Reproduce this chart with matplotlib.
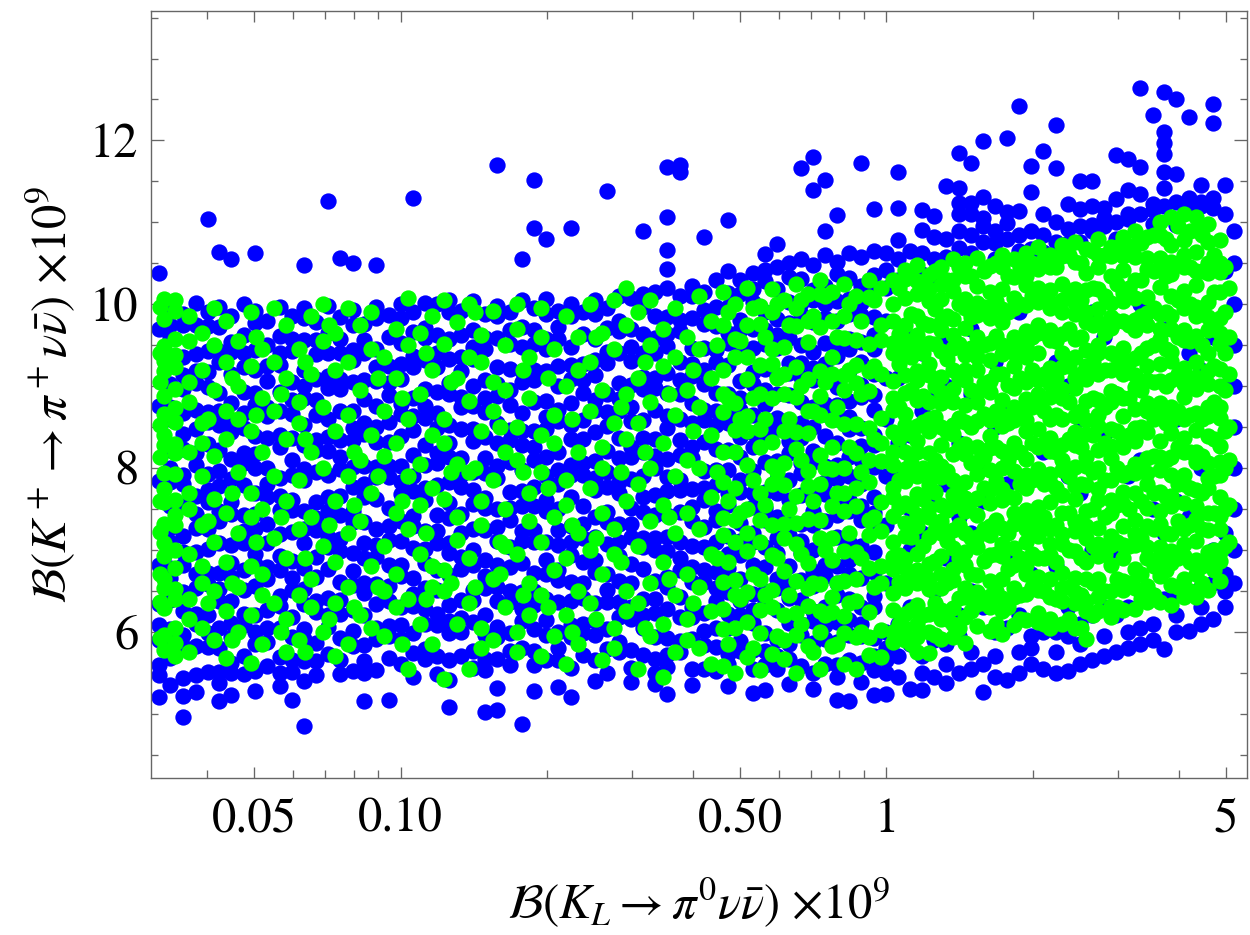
import numpy as np
import matplotlib
matplotlib.use("Agg")
import matplotlib.pyplot as plt
from matplotlib.ticker import FixedLocator, FixedFormatter, NullFormatter

plt.rcParams['font.family'] = 'STIXGeneral'
plt.rcParams['mathtext.fontset'] = 'stix'

# ---------------------------------------------------------------------------
# scan points, column by column: (x, [y values])
# x = B(K_L -> pi0 nu nubar) x 1e9, y = B(K+ -> pi+ nu nubar) x 1e9
# ---------------------------------------------------------------------------

blue_left = [
    (0.0318, [10.38, 9.7, 8.76, 7.84, 6.81, 6.34, 6.08, 5.9, 5.59, 5.47, 5.2]),
    (0.0336, [9.95, 9.75, 9.6, 9.27, 9.03, 8.74, 8.6, 8.22, 8.0, 7.83, 7.53, 7.27, 7.09, 6.78, 6.66, 6.39, 6.03, 5.83, 5.68, 5.35]),
    (0.0356, [9.88, 9.74, 9.36, 9.14, 8.97, 8.67, 8.41, 8.23, 7.92, 7.8, 7.53, 7.17, 6.97, 6.82, 6.49, 6.25, 5.96, 5.82, 5.44, 5.22, 4.96]),
    (0.0379, [10.02, 9.75, 9.39, 9.19, 9.04, 8.71, 8.47, 8.18, 8.04, 7.66, 7.44, 7.27, 6.97, 6.71, 6.53, 6.22, 6.1, 5.83, 5.47, 5.27]),
    (0.0401, [11.04, 9.9, 9.73, 9.43, 9.17, 8.99, 8.68, 8.56, 8.29, 7.93, 7.73, 7.58, 7.25, 7.01, 6.72, 6.58, 6.2, 5.98, 5.81, 5.51]),
    (0.0423, [10.64, 9.96, 9.72, 9.43, 9.29, 8.91, 8.69, 8.52, 8.22, 7.96, 7.78, 7.47, 7.35, 7.08, 6.72, 6.52, 6.37, 6.04, 5.8, 5.51, 5.37, 5.15]),
    (0.0448, [10.55, 9.85, 9.54, 9.42, 9.15, 8.79, 8.59, 8.44, 8.11, 7.87, 7.58, 7.44, 7.06, 6.84, 6.67, 6.37, 6.11, 5.93, 5.62, 5.5, 5.23]),
    (0.0476, [10.0, 9.62, 9.4, 9.23, 8.93, 8.67, 8.49, 8.18, 8.06, 7.79, 7.43, 7.23, 7.08, 6.75, 6.51, 6.22, 6.08, 5.7, 5.48]),
    (0.0502, [10.63, 9.92, 9.77, 9.44, 9.2, 8.91, 8.77, 8.39, 8.17, 8.0, 7.7, 7.44, 7.26, 6.95, 6.83, 6.56, 6.2, 6.0, 5.85, 5.52, 5.28]),
    (0.0532, [9.8, 9.5, 9.24, 9.06, 8.75, 8.63, 8.36, 8.0, 7.8, 7.65, 7.32, 7.08, 6.79, 6.65, 6.27, 6.05, 5.88, 5.58]),
    (0.0565, [9.97, 9.61, 9.41, 9.26, 8.93, 8.69, 8.4, 8.26, 7.88, 7.66, 7.49, 7.19, 6.93, 6.75, 6.44, 6.32, 6.05, 5.69, 5.49, 5.34]),
    (0.0597, [9.86, 9.57, 9.43, 9.05, 8.83, 8.66, 8.36, 8.1, 7.92, 7.61, 7.49, 7.22, 6.86, 6.66, 6.51, 6.18, 5.94, 5.65, 5.51, 5.17]),
    (0.0634, [10.48, 9.95, 9.83, 9.56, 9.2, 9.0, 8.85, 8.52, 8.28, 7.99, 7.85, 7.47, 7.25, 7.08, 6.78, 6.52, 6.34, 6.03, 5.91, 5.64, 5.4, 4.85]),
    (0.0671, [9.78, 9.56, 9.39, 9.09, 8.83, 8.65, 8.34, 8.22, 7.95, 7.59, 7.39, 7.24, 6.91, 6.67, 6.38, 6.24, 5.86, 5.64, 5.47]),
    (0.0709, [11.26, 9.98, 9.65, 9.41, 9.12, 8.98, 8.6, 8.38, 8.21, 7.91, 7.65, 7.47, 7.16, 7.04, 6.77, 6.41, 6.21, 6.06, 5.73]),
    (0.0751, [10.56, 9.84, 9.58, 9.4, 9.09, 8.97, 8.7, 8.34, 8.14, 7.99, 7.66, 7.42, 7.13, 6.99, 6.61, 6.39, 6.22, 5.92, 5.66, 5.48]),
    (0.0797, [10.5, 9.93, 9.75, 9.44, 9.32, 9.05, 8.69, 8.49, 8.34, 8.01, 7.77, 7.48, 7.34, 6.96, 6.74, 6.57, 6.27, 6.01, 5.83, 5.52]),
    (0.0842, [9.76, 9.56, 9.41, 9.08, 8.84, 8.55, 8.41, 8.03, 7.81, 7.64, 7.34, 7.08, 6.9, 6.59, 6.47, 6.2, 5.84, 5.64, 5.49, 5.16]),
    (0.0892, [10.48, 9.97, 9.83, 9.45, 9.23, 9.06, 8.76, 8.5, 8.32, 8.01, 7.89, 7.62, 7.26, 7.06, 6.91, 6.58, 6.34, 6.05, 5.91, 5.53]),
    (0.0947, [9.87, 9.6, 9.24, 9.04, 8.89, 8.56, 8.32, 8.03, 7.89, 7.51, 7.29, 7.12, 6.82, 6.56, 6.38, 6.07, 5.95, 5.68, 5.17]),
    (0.1, [10.0, 9.83, 9.53, 9.27, 9.09, 8.78, 8.66, 8.39, 8.03, 7.83, 7.68, 7.35, 7.11, 6.82, 6.68, 6.3, 6.08, 5.91, 5.61]),
    (0.106, [11.3, 9.9, 9.66, 9.37, 9.23, 8.85, 8.63, 8.46, 8.16, 7.9, 7.72, 7.41, 7.29, 7.02, 6.66, 6.46, 6.31, 5.98, 5.74, 5.45]),
    (0.112, [10.02, 9.71, 9.59, 9.32, 8.96, 8.76, 8.61, 8.28, 8.04, 7.75, 7.61, 7.23, 7.01, 6.84, 6.54, 6.28, 6.1, 5.79, 5.67]),
]

blue_mid = [
    (0.119, [10.0, 9.62, 9.4, 9.23, 8.93, 8.67, 8.49, 8.18, 8.06, 7.79, 7.43, 7.23, 7.08, 6.75, 6.51, 6.22, 6.08, 5.7, 5.48]),
    (0.126, [10.05, 9.9, 9.57, 9.33, 9.04, 8.9, 8.52, 8.3, 8.13, 7.83, 7.57, 7.39, 7.08, 6.96, 6.69, 6.33, 6.13, 5.98, 5.65, 5.41, 5.08]),
    (0.133, [9.92, 9.62, 9.36, 9.18, 8.87, 8.75, 8.48, 8.12, 7.92, 7.77, 7.44, 7.2, 6.91, 6.77, 6.39, 6.17, 6.0, 5.7]),
    (0.141, [10.04, 9.68, 9.48, 9.33, 9.0, 8.76, 8.47, 8.33, 7.95, 7.73, 7.56, 7.26, 7.0, 6.82, 6.51, 6.39, 6.12, 5.76, 5.56]),
    (0.149, [9.88, 9.59, 9.45, 9.07, 8.85, 8.68, 8.38, 8.12, 7.94, 7.63, 7.51, 7.24, 6.88, 6.68, 6.53, 6.2, 5.96, 5.67, 5.53, 5.02]),
    (0.158, [11.7, 9.98, 9.86, 9.59, 9.23, 9.03, 8.88, 8.55, 8.31, 8.02, 7.88, 7.5, 7.28, 7.11, 6.81, 6.55, 6.37, 6.06, 5.94, 5.67, 5.31, 5.05]),
    (0.168, [9.9, 9.68, 9.51, 9.21, 8.95, 8.77, 8.46, 8.34, 8.07, 7.71, 7.51, 7.36, 7.03, 6.79, 6.5, 6.36, 5.98, 5.76, 5.59]),
    (0.178, [10.55, 10.05, 9.72, 9.48, 9.19, 9.05, 8.67, 8.45, 8.28, 7.98, 7.72, 7.54, 7.23, 7.11, 6.84, 6.48, 6.28, 6.13, 5.8, 4.87]),
    (0.188, [11.52, 10.93, 9.95, 9.69, 9.51, 9.2, 9.08, 8.81, 8.45, 8.25, 8.1, 7.77, 7.53, 7.24, 7.1, 6.72, 6.5, 6.33, 6.03, 5.77, 5.59, 5.28]),
    (0.199, [10.8, 10.06, 9.88, 9.57, 9.45, 9.18, 8.82, 8.62, 8.47, 8.14, 7.9, 7.61, 7.47, 7.09, 6.87, 6.7, 6.4, 6.14, 5.96, 5.65]),
    (0.211, [9.92, 9.72, 9.57, 9.24, 9.0, 8.71, 8.57, 8.19, 7.97, 7.8, 7.5, 7.24, 7.06, 6.75, 6.63, 6.36, 6.0, 5.8, 5.65, 5.32]),
    (0.224, [10.93, 10.0, 9.86, 9.48, 9.26, 9.09, 8.79, 8.53, 8.35, 8.04, 7.92, 7.65, 7.29, 7.09, 6.94, 6.61, 6.37, 6.08, 5.94, 5.56, 5.2]),
    (0.237, [9.9, 9.63, 9.27, 9.07, 8.92, 8.59, 8.35, 8.06, 7.92, 7.54, 7.32, 7.15, 6.85, 6.59, 6.41, 6.1, 5.98, 5.71]),
    (0.251, [10.05, 9.88, 9.58, 9.32, 9.14, 8.83, 8.71, 8.44, 8.08, 7.88, 7.73, 7.4, 7.16, 6.87, 6.73, 6.35, 6.13, 5.96, 5.66, 5.4]),
    (0.266, [11.38, 9.95, 9.71, 9.42, 9.28, 8.9, 8.68, 8.51, 8.21, 7.95, 7.77, 7.46, 7.34, 7.07, 6.71, 6.51, 6.36, 6.03, 5.79, 5.5]),
    (0.281, [10.1, 9.79, 9.67, 9.4, 9.04, 8.84, 8.69, 8.36, 8.12, 7.83, 7.69, 7.31, 7.09, 6.92, 6.62, 6.36, 6.18, 5.87, 5.75]),
    (0.298, [10.08, 9.7, 9.48, 9.31, 9.01, 8.75, 8.57, 8.26, 8.14, 7.87, 7.51, 7.31, 7.16, 6.83, 6.59, 6.3, 6.16, 5.78, 5.56, 5.39]),
    (0.316, [10.9, 10.12, 9.97, 9.64, 9.4, 9.11, 8.97, 8.59, 8.37, 8.2, 7.9, 7.64, 7.46, 7.15, 7.03, 6.76, 6.4, 6.2, 6.05, 5.72]),
    (0.334, [10.15, 9.85, 9.59, 9.41, 9.1, 8.98, 8.71, 8.35, 8.15, 8.0, 7.67, 7.43, 7.14, 7.0, 6.62, 6.4, 6.23, 5.93, 5.67, 5.49, 5.36]),
    (0.354, [11.67, 11.07, 10.66, 10.43, 10.2, 9.84, 9.64, 9.49, 9.16, 8.92, 8.63, 8.49, 8.11, 7.89, 7.72, 7.42, 7.16, 6.98, 6.67, 6.55, 6.28, 5.92, 5.72, 5.57, 5.24]),
    (0.375, [11.7, 11.62, 10.1, 9.81, 9.67, 9.29, 9.07, 8.9, 8.6, 8.34, 8.16, 7.85, 7.73, 7.46, 7.1, 6.9, 6.75, 6.42, 6.18, 5.89, 5.75]),
    (0.397, [10.22, 10.1, 9.83, 9.47, 9.27, 9.12, 8.79, 8.55, 8.26, 8.12, 7.74, 7.52, 7.35, 7.05, 6.79, 6.61, 6.3, 6.18, 5.91, 5.55, 5.35]),
    (0.421, [10.82, 10.15, 9.93, 9.76, 9.46, 9.2, 9.02, 8.71, 8.59, 8.32, 7.96, 7.76, 7.61, 7.28, 7.04, 6.75, 6.61, 6.23, 6.01, 5.84, 5.54]),
    (0.446, [10.3, 9.97, 9.73, 9.44, 9.3, 8.92, 8.7, 8.53, 8.23, 7.97, 7.79, 7.48, 7.36, 7.09, 6.73, 6.53, 6.38, 6.05, 5.81, 5.52]),
    (0.472, [11.03, 10.4, 10.14, 9.96, 9.65, 9.53, 9.26, 8.9, 8.7, 8.55, 8.22, 7.98, 7.69, 7.55, 7.17, 6.95, 6.78, 6.48, 6.22, 6.04, 5.73, 5.61, 5.34]),
    (0.5, [10.3, 10.12, 9.81, 9.69, 9.42, 9.06, 8.86, 8.71, 8.38, 8.14, 7.85, 7.71, 7.33, 7.11, 6.94, 6.64, 6.38, 6.2, 5.89, 5.77]),
    (0.53, [10.38, 10.18, 10.03, 9.7, 9.46, 9.17, 9.03, 8.65, 8.43, 8.26, 7.96, 7.7, 7.52, 7.21, 7.09, 6.82, 6.46, 6.26, 6.11, 5.78, 5.54, 5.25]),
    (0.561, [10.61, 10.42, 10.28, 9.9, 9.68, 9.51, 9.21, 8.95, 8.77, 8.46, 8.34, 8.07, 7.71, 7.51, 7.36, 7.03, 6.79, 6.5, 6.36, 5.98, 5.76, 5.59, 5.29]),
    (0.594, [10.73, 10.45, 10.18, 9.82, 9.62, 9.47, 9.14, 8.9, 8.61, 8.47, 8.09, 7.87, 7.7, 7.4, 7.14, 6.96, 6.65, 6.53, 6.26, 5.9, 5.7, 5.55]),
    (0.629, [10.5, 10.33, 10.03, 9.77, 9.59, 9.28, 9.16, 8.89, 8.53, 8.33, 8.18, 7.85, 7.61, 7.32, 7.18, 6.8, 6.58, 6.41, 6.11, 5.85, 5.67, 5.36]),
    (0.667, [11.66, 10.55, 10.31, 10.02, 9.88, 9.5, 9.28, 9.11, 8.81, 8.55, 8.37, 8.06, 7.94, 7.67, 7.31, 7.11, 6.96, 6.63, 6.39, 6.1, 5.96, 5.58]),
    (0.706, [11.8, 11.4, 10.48, 10.17, 10.05, 9.78, 9.42, 9.22, 9.07, 8.74, 8.5, 8.21, 8.07, 7.69, 7.47, 7.3, 7.0, 6.74, 6.56, 6.25, 6.13, 5.86, 5.5, 5.3]),
    (0.748, [11.52, 10.9, 10.6, 10.22, 10.0, 9.83, 9.53, 9.27, 9.09, 8.78, 8.66, 8.39, 8.03, 7.83, 7.68, 7.35, 7.11, 6.82, 6.68, 6.3, 6.08, 5.91, 5.61]),
    (0.792, [11.09, 10.52, 10.37, 10.04, 9.8, 9.51, 9.37, 8.99, 8.77, 8.6, 8.3, 8.04, 7.86, 7.55, 7.43, 7.16, 6.8, 6.6, 6.45, 6.12, 5.88, 5.59, 5.45, 5.17]),
    (0.839, [10.62, 10.32, 10.06, 9.88, 9.57, 9.45, 9.18, 8.82, 8.62, 8.47, 8.14, 7.9, 7.61, 7.47, 7.09, 6.87, 6.7, 6.4, 6.14, 5.96, 5.65, 5.15]),
    (0.888, [11.72, 10.58, 10.22, 10.02, 9.87, 9.54, 9.3, 9.01, 8.87, 8.49, 8.27, 8.1, 7.8, 7.54, 7.36, 7.05, 6.93, 6.66, 6.3, 6.1, 5.95, 5.62, 5.38]),
    (0.941, [11.16, 10.65, 10.36, 10.22, 9.84, 9.62, 9.45, 9.15, 8.89, 8.71, 8.4, 8.28, 8.01, 7.65, 7.45, 7.3, 6.97, 6.73, 6.44, 6.3, 5.92, 5.7, 5.53, 5.23]),
]

blue_right = [
    (0.997, [10.62, 10.42, 10.2, 9.8, 9.1, 8.6, 7.9, 7.3, 6.6, 6.0, 5.8, 5.65, 5.5, 5.24]),
    (1.056, [11.62, 11.17, 10.78, 10.55, 10.3, 9.1, 8.3, 7.9, 6.6, 6.1, 5.7, 5.45]),
    (1.118, [10.65, 10.39, 9.6, 8.4, 7.5, 7.0, 6.3, 5.85, 5.3]),
    (1.184, [11.15, 10.91, 10.62, 10.37, 9.4, 8.7, 7.2, 6.2, 5.7, 5.5, 5.29]),
    (1.254, [11.08, 10.82, 10.55, 10.3, 8.85, 8.0, 7.6, 6.5, 5.9, 5.45]),
    (1.328, [11.44, 10.8, 10.58, 9.6, 9.0, 7.8, 6.9, 5.85, 5.6, 5.37]),
    (1.407, [11.85, 11.42, 11.24, 11.1, 10.9, 10.69, 8.3, 7.4, 6.2, 5.95, 5.5]),
    (1.49, [11.73, 11.24, 11.1, 10.85, 10.62, 9.7, 8.9, 7.2, 6.5, 5.75, 5.55]),
    (1.578, [11.99, 11.31, 11.05, 10.95, 10.76, 8.0, 7.6, 6.3, 5.6, 5.27]),
    (1.671, [11.2, 10.9, 10.75, 10.55, 9.3, 8.5, 6.5, 6.0, 5.7, 5.45]),
    (1.77, [12.03, 11.13, 10.99, 10.8, 8.7, 7.8, 6.9, 6.05, 5.41]),
    (1.874, [12.42, 11.14, 10.85, 10.65, 9.9, 7.4, 6.2, 5.75, 5.5]),
    (1.985, [11.69, 11.37, 10.9, 10.67, 10.53, 9.6, 8.8, 6.7, 5.95, 5.8, 5.6]),
    (2.1, [11.87, 11.1, 10.85, 10.64, 8.2, 7.3, 6.0, 5.55]),
    (2.23, [12.19, 11.66, 11.0, 10.76, 9.3, 6.8, 6.0, 5.75, 5.5]),
    (2.36, [11.22, 10.92, 10.75, 10.6, 9.0, 7.9, 6.3, 5.95, 5.52]),
    (2.5, [11.5, 11.16, 10.95, 10.76, 8.6, 7.7, 6.1, 5.85, 5.6]),
    (2.65, [11.51, 11.2, 10.97, 10.9, 9.9, 7.0, 6.2, 5.65]),
    (2.8, [11.17, 11.05, 10.95, 9.6, 8.4, 6.3, 5.95, 5.7]),
    (2.97, [11.82, 11.28, 11.0, 10.8, 8.9, 7.0, 6.2, 5.75]),
    (3.14, [11.77, 11.4, 11.1, 11.04, 9.3, 7.9, 6.3, 6.0, 5.8]),
    (3.33, [12.64, 11.67, 11.35, 11.1, 10.0, 8.1, 6.5, 6.05, 5.85]),
    (3.53, [12.31, 11.22, 11.15, 10.98, 8.7, 7.5, 6.45, 6.1, 5.9]),
    (3.73, [12.59, 12.1, 11.97, 11.84, 11.62, 11.42, 11.2, 9.7, 7.2, 6.4, 5.79]),
    (3.95, [12.51, 11.59, 11.25, 10.97, 8.6, 7.6, 6.45, 6.2, 6.0]),
    (4.19, [12.29, 11.3, 11.15, 9.4, 7.4, 6.5, 6.01]),
    (4.43, [11.46, 11.25, 11.2, 9.2, 8.0, 6.55, 6.3, 6.1]),
    (4.7, [12.45, 12.21, 11.3, 11.17, 9.6, 7.0, 6.6, 6.15]),
    (4.98, [11.46, 11.1, 10.4, 9.0, 8.0, 7.2, 6.7, 6.5, 6.3]),
    (5.2, [10.9, 10.5, 10.0, 9.5, 9.0, 8.5, 8.0, 7.5, 7.0, 6.6]),
]

green_left = [
    (0.0319, [9.96, 9.41, 9.05, 8.52, 8.14, 7.6, 7.22, 6.7, 6.36, 5.92]),
    (0.0326, [10.06, 9.82, 9.49, 9.31, 9.18, 8.88, 8.66, 8.4, 8.28, 7.94, 7.74, 7.58, 7.31, 7.08, 6.92, 6.64, 6.53, 6.29, 5.96, 5.78]),
    (0.0344, [10.05, 9.92, 9.58, 9.38, 9.23, 8.96, 8.73, 8.56, 8.29, 8.18, 7.93, 7.61, 7.43, 7.3, 7.0, 6.78, 6.52, 6.4, 6.05, 5.86, 5.7]),
    (0.0366, [9.85, 9.55, 9.05, 8.8, 8.2, 7.7, 7.5, 6.95, 6.4, 6.15, 5.75]),
    (0.039, [9.65, 9.2, 8.55, 8.3, 7.9, 7.3, 6.8, 6.6, 6.05]),
    (0.0412, [9.95, 9.5, 8.95, 8.15, 7.62, 7.1, 6.5, 5.9]),
    (0.0437, [9.8, 9.3, 8.7, 8.35, 7.45, 6.85, 6.25, 5.68]),
    (0.0463, [9.55, 9.0, 8.6, 7.95, 7.2, 6.55, 6.0]),
    (0.0491, [9.9, 9.25, 8.45, 7.7, 7.4, 6.8, 6.2, 5.62]),
    (0.0519, [9.45, 8.85, 8.2, 7.5, 6.7, 6.45, 5.85]),
    (0.055, [9.95, 9.3, 8.7, 7.9, 7.15, 6.35]),
    (0.0582, [9.75, 9.1, 8.35, 7.6, 6.9, 6.15, 5.75]),
    (0.0617, [9.45, 8.8, 8.55, 7.85, 7.25, 6.45, 5.9]),
    (0.0654, [9.85, 9.15, 8.2, 7.4, 6.65, 6.3]),
    (0.0692, [10.0, 9.55, 8.75, 8.0, 7.05, 6.0]),
    (0.0733, [9.65, 9.2, 8.45, 7.6, 6.85, 6.35, 5.7]),
    (0.0778, [9.95, 9.3, 8.65, 7.9, 7.2, 6.55, 5.85]),
    (0.0823, [9.75, 8.95, 8.1, 7.35, 6.2]),
    (0.0871, [9.9, 9.45, 8.4, 7.7, 6.8, 6.05]),
    (0.0923, [9.35, 8.7, 8.15, 7.05, 6.5, 5.95]),
    (0.0978, [9.7, 9.1, 8.3, 7.45, 6.7, 6.3]),
    (0.1036, [10.08, 9.5, 8.6, 7.9, 7.25, 6.4, 5.55]),
    (0.1097, [9.65, 8.9, 8.05, 7.55, 6.95, 6.1]),
    (0.1162, [9.85, 9.2, 8.4, 7.75, 6.8, 6.55, 5.85]),
]

green_mid = [
    (0.1231, [10.05, 9.52, 8.6, 8.31, 7.62, 6.75, 6.5, 5.42]),
    (0.1304, [9.78, 9.1, 8.05, 7.4, 7.12, 6.1]),
    (0.1381, [10.0, 9.35, 8.82, 7.95, 6.9, 6.35, 5.55]),
    (0.1462, [9.62, 9.3, 8.45, 7.6, 7.3, 6.05, 5.8]),
    (0.1549, [9.92, 9.05, 8.7, 7.85, 6.65, 5.9]),
    (0.164, [9.5, 8.95, 8.2, 7.5, 7.05, 6.3]),
    (0.1737, [10.0, 9.7, 8.5, 8.1, 6.95, 6.0, 5.75]),
    (0.184, [9.35, 8.85, 7.7, 7.35, 6.6, 6.2]),
    (0.1949, [9.95, 9.6, 8.4, 7.95, 7.1, 6.45, 5.7]),
    (0.2064, [9.45, 8.65, 8.3, 7.4, 6.75, 5.95]),
    (0.2186, [9.85, 9.0, 7.85, 7.55, 6.9, 6.2, 5.6]),
    (0.2315, [9.6, 9.2, 8.2, 7.2, 6.5, 5.85]),
    (0.2452, [10.0, 9.3, 8.7, 7.75, 7.0, 6.35]),
    (0.2597, [9.65, 8.95, 8.25, 8.0, 7.45, 6.7, 5.65]),
    (0.2751, [10.05, 9.45, 8.55, 7.25, 6.95, 6.05, 5.8]),
    (0.2913, [10.2, 9.75, 8.9, 8.35, 7.6, 6.5, 6.25]),
    (0.3085, [9.9, 9.1, 8.55, 7.8, 7.05, 6.35, 5.55]),
    (0.3268, [10.05, 9.5, 8.8, 8.0, 7.35, 6.6, 5.95]),
    (0.3461, [9.7, 9.25, 8.3, 7.55, 6.85, 6.1, 5.45]),
    (0.3666, [9.95, 9.35, 8.65, 7.9, 7.2, 6.45, 5.75]),
    (0.3882, [9.6, 8.95, 8.1, 7.45, 6.7, 6.15, 5.9]),
    (0.4112, [10.1, 9.45, 8.75, 8.0, 7.25, 6.55, 5.8]),
    (0.4355, [9.8, 9.1, 8.4, 7.65, 6.95, 6.25, 5.6]),
    (0.4612, [10.15, 9.75, 9.2, 8.9, 8.68, 8.19, 7.83, 7.39, 7.18, 6.61, 6.28, 6.03, 5.58]),
    (0.4885, [10.0, 9.57, 9.36, 8.79, 8.46, 8.2, 7.75, 7.36, 7.09, 6.63, 6.45, 6.04, 5.5]),
    (0.5173, [10.2, 9.75, 9.36, 9.09, 8.63, 8.45, 8.04, 7.5, 7.2, 6.98, 6.48, 6.12, 5.69]),
    (0.5479, [9.98, 9.76, 9.26, 8.9, 8.47, 8.26, 7.69, 7.36, 7.1, 6.65, 6.26, 5.99, 5.53]),
    (0.5803, [10.18, 9.91, 9.45, 9.27, 8.86, 8.32, 8.02, 7.8, 7.3, 6.94, 6.51, 6.3, 5.73]),
    (0.6146, [10.05, 9.48, 9.15, 8.9, 8.45, 8.06, 7.79, 7.32, 7.14, 6.74, 6.2, 5.9, 5.67]),
    (0.6509, [10.25, 9.95, 9.73, 9.23, 8.87, 8.44, 8.23, 7.66, 7.33, 7.07, 6.62, 6.23, 5.96, 5.5]),
    (0.6894, [10.12, 9.79, 9.54, 9.09, 8.7, 8.43, 7.96, 7.78, 7.38, 6.84, 6.54, 6.31, 5.82]),
    (0.7301, [10.3, 10.12, 9.72, 9.18, 8.88, 8.65, 8.16, 7.8, 7.36, 7.15, 6.58, 6.25, 6.0, 5.55]),
    (0.7733, [10.15, 9.79, 9.36, 9.15, 8.58, 8.25, 7.99, 7.54, 7.15, 6.88, 6.42, 6.24, 5.83]),
    (0.819, [10.25, 9.86, 9.59, 9.13, 8.95, 8.54, 8.0, 7.7, 7.48, 6.98, 6.62, 6.19, 5.98, 5.6]),
    (0.8674, [10.1, 9.56, 9.26, 9.04, 8.54, 8.18, 7.75, 7.54, 6.97, 6.64, 6.38, 5.93, 5.54]),
    (0.9187, [10.3, 10.09, 9.52, 9.19, 8.94, 8.49, 8.1, 7.83, 7.36, 7.18, 6.78, 6.24, 5.94, 5.71]),
    (0.973, [10.2, 9.74, 9.56, 9.15, 8.61, 8.31, 8.09, 7.59, 7.23, 6.8, 6.59, 6.02, 5.69]),
]

green_right = [
    (1.03, [10.3, 10.0, 9.79, 9.53, 9.4, 9.06, 8.86, 8.71, 8.44, 8.2, 8.04, 7.76, 7.65, 7.41, 7.09, 6.91, 6.77, 6.47, 6.26, 6.0, 5.87]),
    (1.09, [10.42, 10.31, 10.07, 9.74, 9.56, 9.43, 9.13, 8.92, 8.66, 8.53, 8.19, 7.99, 7.84, 7.57, 7.33, 7.17, 6.89, 6.78, 6.54, 6.22, 6.04, 5.9]),
    (1.155, [10.48, 10.28, 10.13, 9.86, 9.62, 9.46, 9.18, 9.08, 8.83, 8.51, 8.33, 8.19, 7.9, 7.68, 7.42, 7.29, 6.95, 6.75, 6.6, 6.33, 6.1, 5.93, 5.75]),
    (1.223, [10.36, 10.18, 10.04, 9.75, 9.53, 9.27, 9.14, 8.8, 8.6, 8.45, 8.18, 7.95, 7.79, 7.51, 7.4, 7.16, 6.83, 6.65, 6.52, 6.22, 6.0, 5.74]),
    (1.295, [10.46, 10.23, 10.06, 9.78, 9.68, 9.43, 9.11, 8.93, 8.79, 8.5, 8.28, 8.02, 7.89, 7.55, 7.35, 7.2, 6.93, 6.7, 6.54, 6.26, 6.15, 5.91]),
    (1.372, [10.55, 10.29, 10.16, 9.82, 9.62, 9.47, 9.2, 8.97, 8.8, 8.52, 8.42, 8.17, 7.85, 7.67, 7.53, 7.24, 7.02, 6.76, 6.63, 6.29, 6.09, 5.94]),
    (1.453, [10.5, 10.34, 10.06, 9.95, 9.71, 9.38, 9.2, 9.07, 8.77, 8.56, 8.29, 8.17, 7.83, 7.63, 7.48, 7.21, 6.97, 6.81, 6.53, 6.42, 6.18, 5.86]),
    (1.539, [10.56, 10.22, 10.02, 9.87, 9.6, 9.36, 9.2, 8.92, 8.81, 8.57, 8.25, 8.07, 7.93, 7.63, 7.42, 7.16, 7.03, 6.69, 6.49, 6.34, 6.07]),
    (1.63, [10.47, 10.15, 9.97, 9.83, 9.53, 9.32, 9.06, 8.93, 8.59, 8.39, 8.24, 7.97, 7.73, 7.57, 7.29, 7.18, 6.94, 6.62, 6.44, 6.3, 6.01]),
    (1.726, [10.6, 10.45, 10.18, 9.94, 9.78, 9.5, 9.39, 9.15, 8.83, 8.65, 8.51, 8.21, 8.0, 7.74, 7.61, 7.27, 7.07, 6.92, 6.65, 6.41, 6.25, 5.97]),
    (1.828, [10.55, 10.33, 10.07, 9.95, 9.6, 9.41, 9.25, 8.98, 8.75, 8.59, 8.31, 8.2, 7.96, 7.63, 7.45, 7.32, 7.02, 6.81, 6.54, 6.42, 6.08]),
    (1.936, [10.62, 10.34, 10.23, 9.99, 9.67, 9.49, 9.35, 9.05, 8.84, 8.58, 8.45, 8.11, 7.91, 7.76, 7.49, 7.25, 7.09, 6.81, 6.7, 6.46, 6.14]),
    (2.05, [10.7, 10.43, 10.2, 10.03, 9.75, 9.65, 9.4, 9.08, 8.9, 8.76, 8.47, 8.25, 7.99, 7.86, 7.52, 7.32, 7.17, 6.9, 6.67, 6.51, 6.23, 6.12]),
    (2.17, [10.6, 10.46, 10.17, 9.95, 9.69, 9.56, 9.22, 9.02, 8.87, 8.6, 8.37, 8.21, 7.93, 7.82, 7.58, 7.25, 7.07, 6.94, 6.64, 6.42, 6.16, 6.04]),
    (2.3, [10.72, 10.59, 10.25, 10.05, 9.9, 9.63, 9.4, 9.23, 8.96, 8.85, 8.6, 8.28, 8.1, 7.97, 7.67, 7.45, 7.19, 7.07, 6.72, 6.53, 6.37, 6.1]),
    (2.44, [10.76, 10.52, 10.19, 10.01, 9.88, 9.58, 9.36, 9.1, 8.98, 8.64, 8.44, 8.28, 8.01, 7.78, 7.62, 7.34, 7.23, 6.99, 6.66, 6.48, 6.35, 6.05]),
    (2.58, [10.68, 10.38, 10.17, 9.91, 9.78, 9.44, 9.24, 9.09, 8.82, 8.58, 8.42, 8.14, 8.03, 7.79, 7.47, 7.29, 7.15, 6.85, 6.64, 6.38, 6.25, 5.91]),
    (2.73, [10.8, 10.6, 10.45, 10.18, 9.94, 9.78, 9.5, 9.4, 9.15, 8.83, 8.65, 8.51, 8.22, 8.0, 7.74, 7.61, 7.27, 7.07, 6.92, 6.65, 6.42, 6.25]),
    (2.9, [10.7, 10.59, 10.35, 10.02, 9.84, 9.71, 9.41, 9.2, 8.94, 8.81, 8.47, 8.27, 8.12, 7.85, 7.61, 7.45, 7.17, 7.06, 6.82, 6.5, 6.32, 6.18]),
    (3.07, [10.82, 10.59, 10.42, 10.14, 10.04, 9.79, 9.47, 9.29, 9.15, 8.86, 8.64, 8.38, 8.25, 7.91, 7.71, 7.56, 7.29, 7.06, 6.9, 6.62, 6.51, 6.27]),
    (3.25, [10.9, 10.72, 10.58, 10.29, 10.07, 9.81, 9.68, 9.34, 9.14, 8.99, 8.72, 8.49, 8.33, 8.05, 7.94, 7.7, 7.37, 7.19, 7.06, 6.76, 6.54, 6.28]),
    (3.44, [10.82, 10.56, 10.43, 10.09, 9.89, 9.74, 9.47, 9.24, 9.07, 8.79, 8.69, 8.44, 8.12, 7.94, 7.8, 7.51, 7.29, 7.03, 6.9, 6.56, 6.36]),
    (3.65, [11.0, 10.84, 10.56, 10.45, 10.21, 9.88, 9.7, 9.57, 9.27, 9.06, 8.79, 8.67, 8.33, 8.13, 7.98, 7.71, 7.47, 7.31, 7.03, 6.92, 6.68, 6.36]),
    (3.86, [11.06, 10.72, 10.52, 10.37, 10.1, 9.86, 9.7, 9.42, 9.31, 9.07, 8.75, 8.57, 8.43, 8.13, 7.92, 7.66, 7.53, 7.19, 6.99, 6.84, 6.57, 6.33]),
    (4.09, [11.1, 10.78, 10.6, 10.46, 10.16, 9.95, 9.69, 9.56, 9.22, 9.02, 8.87, 8.6, 8.36, 8.2, 7.92, 7.81, 7.57, 7.25, 7.07, 6.93, 6.64, 6.42]),
    (4.33, [11.06, 10.91, 10.64, 10.4, 10.24, 9.96, 9.85, 9.61, 9.29, 9.11, 8.97, 8.67, 8.46, 8.2, 8.07, 7.73, 7.53, 7.38, 7.11, 6.87, 6.71, 6.43]),
    (4.59, [10.98, 10.76, 10.5, 10.38, 10.03, 9.84, 9.68, 9.41, 9.18, 9.02, 8.74, 8.63, 8.39, 8.06, 7.88, 7.75, 7.45, 7.24, 6.97, 6.85, 6.51]),
    (4.86, [10.78, 10.5, 10.39, 10.15, 9.83, 9.65, 9.51, 9.21, 9.0, 8.74, 8.61, 8.27, 8.07, 7.92, 7.65, 7.41, 7.25, 6.97, 6.86, 6.62]),
    (5.08, [10.2, 9.6, 9.15, 8.5, 8.1, 7.55, 7.1]),
]

# extra green points between the columns above
green_fill_left = [
    (0.0401, [8.6, 7.35, 6.35]),
    (0.045, [9.1, 7.7, 6.6, 5.9]),
    (0.0505, [9.6, 8.65, 7.1]),
    (0.0566, [8.9, 7.4, 6.0]),
    (0.0635, [9.3, 8.35, 6.9, 5.75]),
    (0.0712, [9.75, 7.3, 6.15]),
    (0.08, [8.2, 7.55, 6.3]),
    (0.0897, [9.1, 7.9, 6.55]),
    (0.1007, [8.85, 7.6, 5.85]),
    (0.113, [9.4, 7.2, 6.4]),
    (0.127, [9.05, 7.95, 6.6]),
    (0.1425, [9.9, 8.0, 6.55]),
    (0.16, [8.5, 7.1, 6.7]),
    (0.179, [9.2, 7.95, 6.45]),
    (0.201, [9.1, 7.75, 6.3]),
    (0.225, [8.6, 7.3, 6.0]),
    (0.253, [9.6, 7.15, 6.15]),
    (0.284, [8.75, 7.95, 6.85]),
    (0.318, [9.3, 8.2, 6.05]),
    (0.357, [8.9, 7.4, 6.65]),
    (0.4, [9.2, 8.45, 6.35]),
    (0.448, [9.5, 7.95, 6.9]),
]

green_fill_mid = [
    (0.472, [9.9, 8.85, 7.6, 6.85, 5.85]),
    (0.5, [9.55, 8.6, 7.45, 6.4]),
    (0.53, [9.95, 8.85, 7.85, 6.7, 5.8]),
    (0.561, [9.6, 8.6, 7.55, 6.45]),
    (0.594, [10.0, 9.1, 7.95, 6.9, 5.95]),
    (0.629, [9.75, 8.6, 7.5, 6.45]),
    (0.667, [10.05, 9.0, 8.1, 6.95, 6.1]),
    (0.706, [9.85, 8.7, 7.6, 6.6, 5.75]),
    (0.748, [10.1, 9.05, 8.0, 7.0, 6.2]),
    (0.792, [9.6, 8.75, 7.7, 6.6, 5.85]),
    (0.839, [10.0, 9.2, 8.25, 7.2, 6.35]),
    (0.888, [9.8, 8.9, 7.95, 6.9, 6.0]),
    (0.941, [10.05, 9.25, 8.35, 7.4, 6.55]),
]

green_fill_right = [
    (1.06, [10.2, 9.63, 9.27, 8.74, 8.36, 7.85, 7.52, 6.94, 6.61, 6.1]),
    (1.122, [10.35, 9.88, 9.36, 8.95, 8.41, 8.06, 7.53, 7.16, 6.7, 6.26, 5.85]),
    (1.189, [10.25, 9.77, 9.4, 8.88, 8.56, 8.0, 7.62, 7.05, 6.66, 6.2]),
    (1.258, [10.4, 9.94, 9.51, 9.0, 8.62, 8.1, 7.71, 7.24, 6.86, 6.35, 5.96]),
    (1.333, [10.3, 9.86, 9.33, 8.86, 8.44, 7.96, 7.49, 7.11, 6.6, 6.16]),
    (1.412, [10.45, 10.0, 9.52, 9.1, 8.61, 8.24, 7.76, 7.3, 6.9, 6.41, 6.05]),
    (1.496, [10.35, 9.84, 9.46, 8.95, 8.5, 8.06, 7.6, 7.14, 6.71, 6.25]),
    (1.584, [10.4, 9.96, 9.5, 9.04, 8.66, 8.14, 7.76, 7.25, 6.86, 6.35]),
    (1.677, [10.5, 10.04, 9.61, 9.15, 8.7, 8.26, 7.84, 7.36, 6.95, 6.5, 6.1]),
    (1.777, [10.35, 9.9, 9.44, 9.01, 8.55, 8.1, 7.66, 7.2, 6.76, 6.3]),
    (1.881, [10.45, 10.0, 9.56, 9.1, 8.7, 8.2, 7.8, 7.35, 6.9, 6.45, 6.15]),
    (1.993, [10.5, 10.1, 9.6, 9.2, 8.75, 8.3, 7.85, 7.4, 6.95, 6.55]),
    (2.11, [10.55, 10.05, 9.65, 9.15, 8.7, 8.3, 7.8, 7.4, 6.9, 6.5, 6.1]),
    (2.235, [10.45, 10.0, 9.55, 9.1, 8.65, 8.2, 7.75, 7.3, 6.85, 6.4]),
    (2.37, [10.6, 10.15, 9.7, 9.25, 8.8, 8.35, 7.9, 7.45, 7.0, 6.55, 6.15]),
    (2.51, [10.5, 10.05, 9.6, 9.15, 8.7, 8.25, 7.8, 7.35, 6.9, 6.45, 6.05]),
    (2.655, [10.65, 10.2, 9.75, 9.3, 8.85, 8.4, 7.95, 7.5, 7.05, 6.6, 6.2]),
    (2.815, [10.6, 10.1, 9.65, 9.2, 8.75, 8.3, 7.85, 7.4, 6.95, 6.5]),
    (2.985, [10.7, 10.25, 9.8, 9.35, 8.9, 8.45, 8.0, 7.55, 7.1, 6.65, 6.3]),
    (3.16, [10.65, 10.2, 9.75, 9.3, 8.85, 8.4, 7.95, 7.5, 7.05, 6.6]),
    (3.345, [10.75, 10.3, 9.85, 9.4, 8.95, 8.5, 8.05, 7.6, 7.15, 6.7, 6.4]),
    (3.545, [10.85, 10.4, 9.95, 9.5, 9.05, 8.6, 8.15, 7.7, 7.25, 6.8, 6.45]),
    (3.755, [10.8, 10.35, 9.9, 9.45, 9.0, 8.55, 8.1, 7.65, 7.2, 6.75]),
    (3.975, [10.95, 10.5, 10.05, 9.6, 9.15, 8.7, 8.25, 7.8, 7.35, 6.9, 6.55]),
    (4.21, [10.9, 10.45, 10.0, 9.55, 9.1, 8.65, 8.2, 7.75, 7.3, 6.85, 6.5]),
    (4.46, [10.85, 10.4, 9.95, 9.5, 9.05, 8.6, 8.15, 7.7, 7.25, 6.8, 6.6]),
    (4.725, [10.6, 10.15, 9.7, 9.25, 8.8, 8.35, 7.9, 7.45, 7.0, 6.75]),
    (4.97, [10.45, 9.9, 9.4, 8.95, 8.45, 8.0, 7.5, 7.05]),
]

x_major = [0.05, 0.1, 0.5, 1, 5]
x_major_labels = ["0.05", "0.10", "0.50", "1", "5"]
x_minor = [0.04, 0.06, 0.07, 0.08, 0.09, 0.2, 0.3, 0.4, 0.6, 0.7, 0.8, 0.9, 2, 3, 4]
y_major = [6, 8, 10, 12]
y_minor = [4.5, 5, 5.5, 6.5, 7, 7.5, 8.5, 9, 9.5, 10.5, 11, 11.5, 12.5, 13, 13.5]


def unpack(columns):
    xs, ys = [], []
    for x, col in columns:
        xs.extend([x] * len(col))
        ys.extend(col)
    return np.array(xs), np.array(ys)


bx, by = unpack(blue_left + blue_mid + blue_right)
gx, gy = unpack(green_left + green_mid + green_right
                + green_fill_left + green_fill_mid + green_fill_right)

fig = plt.figure(figsize=(12.5, 9.35), dpi=100)
ax = fig.add_axes([0.1206, 0.1676, 0.8768, 0.821])

ax.scatter(bx, by, s=138, color='#0000ff', linewidths=0, zorder=2)
ax.scatter(gx, gy, s=138, color='#00ff00', linewidths=0, zorder=3)

ax.set_xscale('log')
ax.set_xlim(0.0306, 5.515)
ax.set_ylim(4.21, 13.585)

ax.xaxis.set_major_locator(FixedLocator(x_major))
ax.xaxis.set_major_formatter(FixedFormatter(x_major_labels))
ax.xaxis.set_minor_locator(FixedLocator(x_minor))
ax.xaxis.set_minor_formatter(NullFormatter())
ax.yaxis.set_major_locator(FixedLocator(y_major))
ax.yaxis.set_minor_locator(FixedLocator(y_minor))

frame = '#666666'
for sp in ax.spines.values():
    sp.set_color(frame)
    sp.set_linewidth(1.0)

ax.tick_params(which='both', direction='in', top=True, right=True, color=frame, width=0.95, labelsize=35, labelcolor='black')
ax.tick_params(axis='x', which='major', length=8, pad=14)
ax.tick_params(axis='x', which='minor', length=5.5)
ax.tick_params(axis='y', which='major', length=9.5, pad=9)
ax.tick_params(axis='y', which='minor', length=4.8)

ax.set_xlabel(r'$\mathcal{B}(K_L\rightarrow\pi^0\nu\bar{\nu})$ ×$10^9$', fontsize=35, labelpad=24)
ax.set_ylabel(r'$\mathcal{B}(K^+\rightarrow\pi^+\nu\bar{\nu})$ ×$10^9$', fontsize=35, labelpad=8)

fig.savefig('out.png', dpi=100)
